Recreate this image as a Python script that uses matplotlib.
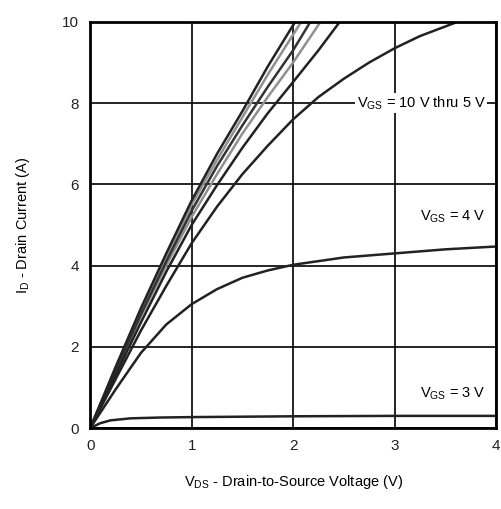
import matplotlib
matplotlib.use("Agg")
import matplotlib.pyplot as plt

plt.rcParams["font.family"] = ["Liberation Sans", "DejaVu Sans"]
plt.rcParams["mathtext.default"] = "regular"

# output characteristics (VDS in V, ID in A)
vds_a = [0, 0.25, 0.5, 0.75, 1.0, 1.25, 1.5, 1.75, 2.02]
id_a = [0, 1.5, 2.95, 4.3, 5.6, 6.75, 7.8, 8.9, 10]
vds_b = [0, 0.25, 0.5, 0.75, 1.0, 1.25, 1.5, 1.75, 2.08]
id_b = [0, 1.45, 2.9, 4.2, 5.5, 6.6, 7.65, 8.7, 10]
vds_c = [0, 0.25, 0.5, 0.75, 1.0, 1.25, 1.5, 1.75, 2.0, 2.17]
id_c = [0, 1.4, 2.8, 4.1, 5.35, 6.45, 7.45, 8.4, 9.3, 10]
vds_d = [0, 0.25, 0.5, 0.75, 1.0, 1.25, 1.5, 1.75, 2.0, 2.27]
id_d = [0, 1.38, 2.75, 4.0, 5.2, 6.25, 7.25, 8.15, 9.0, 10]
vds_6 = [0, 0.25, 0.5, 0.75, 1.0, 1.25, 1.5, 1.75, 2.0, 2.25, 2.46]
id_6 = [0, 1.3, 2.6, 3.85, 5.0, 5.98, 6.9, 7.75, 8.52, 9.3, 10]
vds_5 = [0, 0.25, 0.5, 0.75, 1.0, 1.25, 1.5, 1.75, 2.0, 2.25, 2.5, 2.75, 3.0, 3.25, 3.62]
id_5 = [0, 1.2, 2.4, 3.5, 4.55, 5.45, 6.25, 6.95, 7.6, 8.15, 8.6, 9.0, 9.35, 9.65, 10]
vds_4 = [0, 0.25, 0.5, 0.75, 1.0, 1.25, 1.5, 1.75, 2.0, 2.5, 3.0, 3.5, 4.0]
id_4 = [0, 0.95, 1.85, 2.55, 3.05, 3.42, 3.7, 3.88, 4.02, 4.2, 4.3, 4.4, 4.47]
vds_3 = [0, 0.1, 0.2, 0.4, 0.7, 1.0, 2.0, 3.0, 4.0]
id_3 = [0, 0.12, 0.19, 0.24, 0.26, 0.27, 0.29, 0.3, 0.3]

fig = plt.figure(figsize=(5.01, 5.09), dpi=100)
ax = fig.add_axes([0.18, 0.159, 0.81, 0.798])

ax.grid(True, color="black", linewidth=1.2)
ax.set_axisbelow(True)

ax.plot(vds_d, id_d, color="#909090", lw=1.8)
ax.plot(vds_b, id_b, color="#909090", lw=1.8)
ax.plot(vds_c, id_c, color="#333333", lw=1.8)
ax.plot(vds_a, id_a, color="#222222", lw=1.8)
ax.plot(vds_6, id_6, color="#222222", lw=1.8)
ax.plot(vds_5, id_5, color="#222222", lw=1.8)
ax.plot(vds_4, id_4, color="#222222", lw=1.8)
ax.plot(vds_3, id_3, color="#222222", lw=1.8)

ax.set_xlim(0, 4)
ax.set_ylim(0, 10)
ax.set_xticks([0, 1, 2, 3, 4])
ax.set_yticks([0, 2, 4, 6, 8, 10])
ax.tick_params(length=0, labelsize=11, colors="#222222", pad=8)
for s in ax.spines.values():
    s.set_linewidth(2)

box = dict(facecolor="white", edgecolor="none", pad=1)
ax.text(3.9, 8.0, "$V_{GS}$ = 10 V thru 5 V", ha="right", va="center", fontsize=10.5, bbox=box)
ax.text(3.9, 5.2, "$V_{GS}$ = 4 V", ha="right", va="center", fontsize=10.5, bbox=box)
ax.text(3.9, 0.85, "$V_{GS}$ = 3 V", ha="right", va="center", fontsize=10.5, bbox=box)

ax.set_xlabel("$V_{DS}$ - Drain-to-Source Voltage (V)", fontsize=10.5, labelpad=14)
ax.set_ylabel("$I_D$ - Drain Current (A)", fontsize=10.5, labelpad=22)

fig.savefig("out.png", dpi=100)
